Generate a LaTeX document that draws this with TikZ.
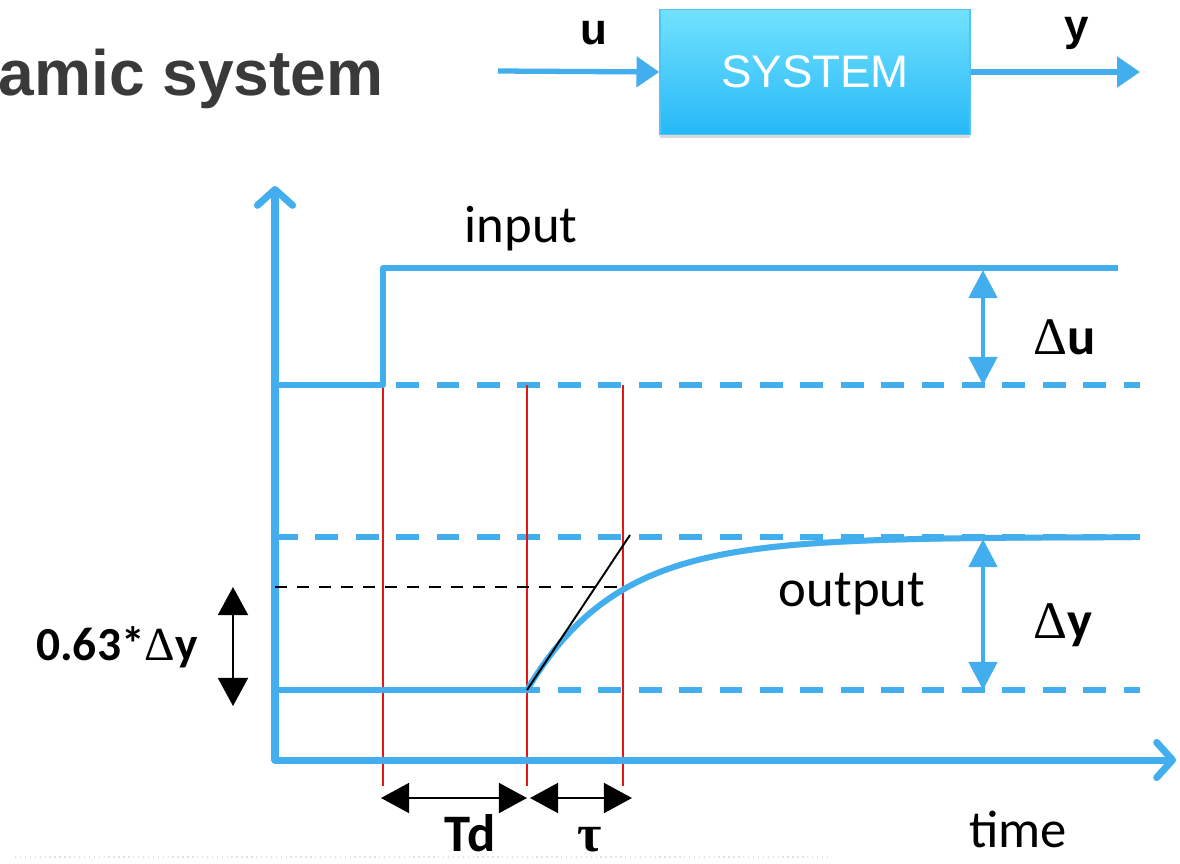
\documentclass[tikz,border=0pt]{standalone}
\usepackage{fontspec}
\setmainfont{Carlito}
\newfontfamily\arialf{Liberation Sans}
\newfontfamily\symf{Liberation Serif}
\usetikzlibrary{arrows.meta,shadows}

\definecolor{sigblue}{RGB}{66,174,238}
\definecolor{boxtop}{RGB}{114,226,255}
\definecolor{boxbot}{RGB}{38,184,246}
\definecolor{boxedge}{RGB}{80,196,244}
\definecolor{titlegray}{RGB}{58,58,58}
\definecolor{markred}{RGB}{226,22,22}

\tikzset{
  sig/.style={draw=sigblue, line width=3.4pt,
    preaction={draw=black!35, opacity=0.4, transform canvas={yshift=-1.6pt}}},
  axisline/.style={sig, line width=4pt, line cap=round,
    -{Straight Barb[length=9pt,width=20pt,line width=4pt,round]}},
  levelline/.style={draw=sigblue, line width=3.4pt, dash pattern=on 13pt off 10pt,
    preaction={draw=black!35, opacity=0.4, dash pattern=on 13pt off 10pt,
      transform canvas={yshift=-1.6pt}}},
  marker/.style={draw=markred, line width=0.9pt},
  bluedim/.style={draw=sigblue, line width=2.6pt,
    {Triangle[length=16pt,width=16pt]}-{Triangle[length=16pt,width=16pt]}},
  blackdim/.style={draw=black, line width=1.4pt,
    {Triangle[length=16pt,width=17pt]}-{Triangle[length=16pt,width=17pt]}},
  flowarrow/.style={draw=sigblue, line width=3pt,
    -{Triangle[length=13pt,width=17pt]}},
  curvelabel/.style={font=\fontsize{30}{36}\selectfont, inner sep=0pt},
  dimlabel/.style={font=\bfseries\fontsize{30}{36}\selectfont, inner sep=0pt},
}

\begin{document}
\begin{tikzpicture}[x=0.02cm, y=-0.02cm]
\useasboundingbox (0,0) rectangle (1180,863);

% heading
\node[anchor=base east, inner sep=0pt, text=titlegray,
      font=\arialf\bfseries\fontsize{36.5}{44}\selectfont] (title) at (384,95) {amic system};

% block diagram
\node[draw=boxedge, line width=0.8pt, top color=boxtop, bottom color=boxbot,
      minimum width=6.2cm, minimum height=2.5cm, inner sep=0pt,
      drop shadow={shadow xshift=0pt, shadow yshift=-2pt, opacity=0.3},
      text=white, font=\arialf\fontsize{26}{30}\selectfont] (sys) at (815,72) {SYSTEM};
\coordinate (uin) at (498,71);
\coordinate (yout) at (1140,72);
\draw[flowarrow] (uin) -- (sys.west);
\draw[flowarrow] (sys.east) -- (yout);
\node[anchor=base, inner sep=0pt, font=\arialf\bfseries\fontsize{25}{30}\selectfont] (ulab) at (594,44) {u};
\node[anchor=base, inner sep=0pt, font=\arialf\bfseries\fontsize{25}{30}\selectfont] (ylab) at (1077,40) {y};

% reference levels
\coordinate (u0L) at (275,385);  \coordinate (u0R) at (1140,385);
\coordinate (y1L) at (275,537);  \coordinate (y1R) at (1140,537);
\coordinate (y0L) at (275,690);  \coordinate (y0R) at (1140,690);
\draw[levelline] (u0L) -- (u0R);
\draw[levelline] (y1L) -- (y1R);
\draw[levelline] (y0L) -- (y0R);

% red time markers
\coordinate (m1t) at (383,385); \coordinate (m1b) at (383,786);
\coordinate (m2t) at (527,385); \coordinate (m2b) at (527,786);
\coordinate (m3t) at (623,385); \coordinate (m3b) at (623,786);
\draw[marker] (m1t) -- (m1b);
\draw[marker] (m2t) -- (m2b);
\draw[marker] (m3t) -- (m3b);

% axes
\coordinate (origin) at (275,760);
\coordinate (ytip) at (275,186);
\coordinate (xtip) at (1176,760);
\draw[axisline] (origin) -- (ytip);
\draw[axisline] (origin) -- (xtip);

% input step
\coordinate (inEnd) at (1118,268);
\draw[sig, line join=round] (u0L) -- (m1t) -- (383,268) -- (inEnd);

% output response
\draw[sig] (y0L) -- (527,690);
\draw[sig, line cap=round] plot[domain=527:1132, samples=90]
  (\x, {690-153*(1-exp(-(\x-527)/90))});

% 63 % level and tangent
\coordinate (d63L) at (275,587);
\coordinate (d63R) at (623,587);
\draw[black, line width=1.2pt, dash pattern=on 7pt off 5.5pt] (d63L) -- (d63R);
\coordinate (tanEnd) at (630,535);
\draw[black, line width=1.1pt] (m2t |- y0L) -- (tanEnd);

% dimension arrows
\coordinate (du1) at (983,270); \coordinate (du2) at (983,385);
\draw[bluedim] (du1) -- (du2);
\coordinate (dy1) at (983,539); \coordinate (dy2) at (983,690);
\draw[bluedim] (dy1) -- (dy2);
\coordinate (p1) at (233,587); \coordinate (p2) at (233,706);
\draw[blackdim] (p1) -- (p2);
\coordinate (td1) at (381,798); \coordinate (td2) at (527,798);
\draw[blackdim] (td1) -- (td2);
\coordinate (ta1) at (530,798); \coordinate (ta2) at (632,798);
\draw[blackdim] (ta1) -- (ta2);

% labels
\node[curvelabel, anchor=base] (inlab) at (521,242) {input};
\node[curvelabel, anchor=base] (outlab) at (852,606) {output};
\node[curvelabel, anchor=base] (tlab) at (1018,847) {time};
\node[dimlabel, anchor=base west] (dulab) at (1033,354) {{\symf\mdseries Δ}u};
\node[dimlabel, anchor=base west] (dylab) at (1033,638) {{\symf\mdseries Δ}y};
\node[dimlabel, anchor=base east, font=\bfseries\fontsize{27}{32}\selectfont] (plab) at (198,660) {0.63*{\symf\mdseries Δ}y};
\node[dimlabel, anchor=base] (tdlab) at (470,851) {Td};
\node[dimlabel, anchor=base, font=\symf\bfseries\fontsize{30}{36}\selectfont] (taulab) at (590,851) {τ};

% faint rule at the foot
\coordinate (ruleL) at (15,857); \coordinate (ruleR) at (830,857);
\draw[black!12, line width=0.8pt, dotted] (ruleL) -- (ruleR);
\end{tikzpicture}
\end{document}
